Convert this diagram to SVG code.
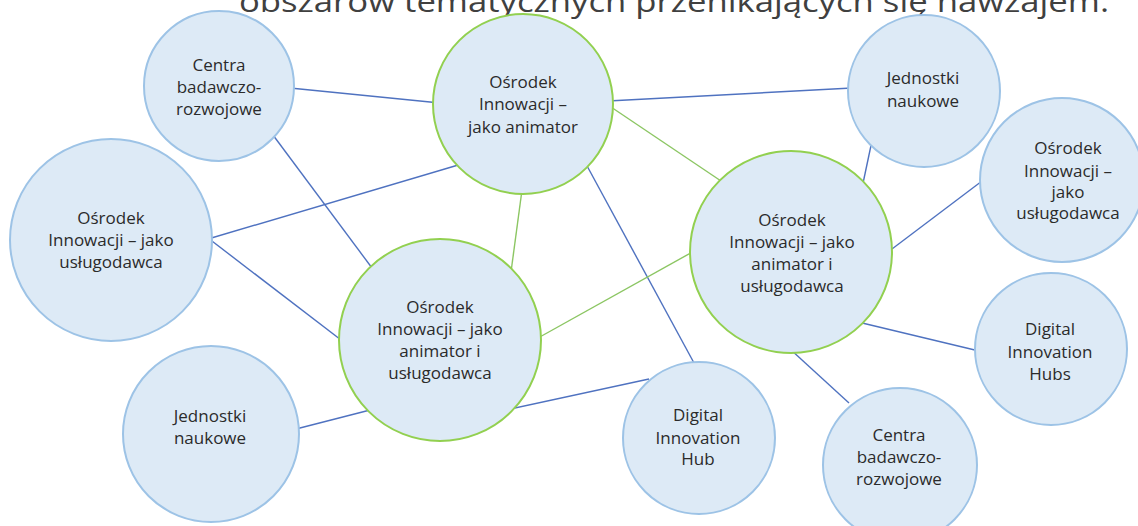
<svg xmlns="http://www.w3.org/2000/svg" width="1138" height="526" viewBox="0 0 1138 526">
<style>
.title{font-family:"Open Sans","Liberation Sans",sans-serif;font-size:30px;fill:#404040}
.b{fill:#DDEAF6;stroke:#9DC3E6;stroke-width:2}
.g{fill:#DDEAF6;stroke:#92D050;stroke-width:2}
.t{font-family:"Open Sans","Liberation Sans",sans-serif;font-size:17px;fill:#2b2b2b;text-anchor:middle}
.lb{stroke:#4F72C0;stroke-width:1.4;fill:none}
.lg{stroke:#8CC663;stroke-width:1.4;fill:none}
</style>
<rect width="1138" height="526" fill="#ffffff"/>
<text class="title" x="239" y="12" textLength="870" lengthAdjust="spacingAndGlyphs">obszarów tematycznych przenikających się nawzajem.</text>
<g id="connectors">
<line class="lb" x1="290" y1="88" x2="440" y2="103"/>
<line class="lb" x1="270" y1="131" x2="375" y2="272"/>
<line class="lb" x1="208" y1="239" x2="465" y2="163"/>
<line class="lb" x1="208" y1="238" x2="345" y2="343"/>
<line class="lb" x1="608" y1="101" x2="852" y2="88"/>
<line class="lg" x1="608" y1="105" x2="724" y2="183"/>
<line class="lg" x1="522" y1="190" x2="511" y2="272"/>
<line class="lb" x1="586" y1="164" x2="700" y2="374"/>
<line class="lg" x1="538" y1="338" x2="696" y2="250"/>
<line class="lb" x1="506" y1="410" x2="649" y2="379"/>
<line class="lb" x1="296" y1="429" x2="374" y2="409"/>
<line class="lb" x1="862" y1="188" x2="873" y2="136"/>
<line class="lb" x1="888" y1="252" x2="986" y2="178"/>
<line class="lb" x1="858" y1="322" x2="979" y2="351"/>
<line class="lb" x1="790" y1="349" x2="849" y2="403"/>
</g>
<g id="centra-top">
<circle class="b" cx="219" cy="86" r="75"/>
<text class="t" x="219" y="71">Centra</text>
<text class="t" x="219" y="93">badawczo-</text>
<text class="t" x="219" y="115">rozwojowe</text>
</g>
<g id="oi-animator">
<circle class="g" cx="523" cy="104" r="90"/>
<text class="t" x="523" y="88">Ośrodek</text>
<text class="t" x="523" y="110">Innowacji –</text>
<text class="t" x="523" y="133">jako animator</text>
</g>
<g id="oi-uslugodawca-left">
<circle class="b" cx="111" cy="240" r="101"/>
<text class="t" x="111" y="224">Ośrodek</text>
<text class="t" x="111" y="246">Innowacji – jako</text>
<text class="t" x="111" y="268">usługodawca</text>
</g>
<g id="oi-animator-uslugodawca-center">
<circle class="g" cx="440" cy="340" r="101"/>
<text class="t" x="440" y="313">Ośrodek</text>
<text class="t" x="440" y="335">Innowacji – jako</text>
<text class="t" x="440" y="357">animator i</text>
<text class="t" x="440" y="379">usługodawca</text>
</g>
<g id="oi-animator-uslugodawca-right">
<circle class="g" cx="791" cy="252" r="101"/>
<text class="t" x="792" y="226">Ośrodek</text>
<text class="t" x="792" y="248">Innowacji – jako</text>
<text class="t" x="792" y="270">animator i</text>
<text class="t" x="792" y="292">usługodawca</text>
</g>
<g id="jednostki-top">
<circle class="b" cx="924" cy="91" r="76"/>
<text class="t" x="923" y="84">Jednostki</text>
<text class="t" x="923" y="107">naukowe</text>
</g>
<g id="oi-uslugodawca-right">
<circle class="b" cx="1062" cy="180" r="82"/>
<text class="t" x="1068" y="154">Ośrodek</text>
<text class="t" x="1068" y="177">Innowacji –</text>
<text class="t" x="1068" y="198">jako</text>
<text class="t" x="1068" y="219">usługodawca</text>
</g>
<g id="dih-right">
<circle class="b" cx="1051" cy="349" r="76"/>
<text class="t" x="1050" y="335">Digital</text>
<text class="t" x="1050" y="358">Innovation</text>
<text class="t" x="1050" y="380">Hubs</text>
</g>
<g id="centra-bottom">
<circle class="b" cx="900" cy="465" r="77"/>
<text class="t" x="899" y="441">Centra</text>
<text class="t" x="899" y="463">badawczo-</text>
<text class="t" x="899" y="485">rozwojowe</text>
</g>
<g id="dih-bottom">
<circle class="b" cx="699" cy="438" r="76"/>
<text class="t" x="698" y="421">Digital</text>
<text class="t" x="698" y="444">Innovation</text>
<text class="t" x="698" y="465">Hub</text>
</g>
<g id="jednostki-bottom">
<circle class="b" cx="211" cy="434" r="88"/>
<text class="t" x="210" y="422">Jednostki</text>
<text class="t" x="210" y="444">naukowe</text>
</g>
</svg>
